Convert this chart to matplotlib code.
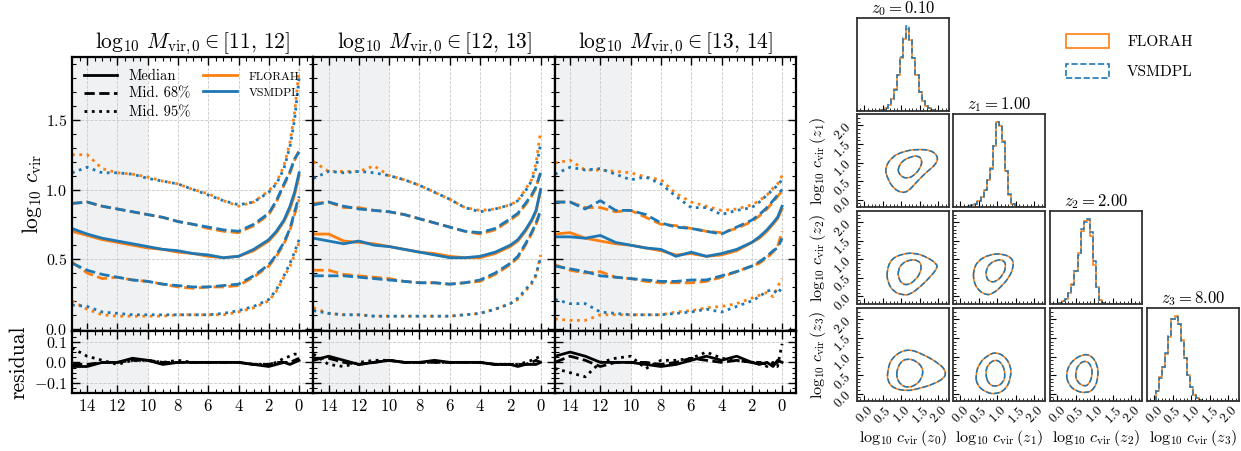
import matplotlib
matplotlib.use("Agg")
import matplotlib.pyplot as plt
import numpy as np
from matplotlib.lines import Line2D
from matplotlib.patches import Patch, PathPatch
from matplotlib.path import Path
from matplotlib.ticker import MultipleLocator, NullFormatter

plt.rcParams.update({
    "font.family": "serif",
    "font.serif": ["cmr10"],
    "mathtext.fontset": "cm",
    "axes.formatter.use_mathtext": True,
    "xtick.direction": "in",
    "ytick.direction": "in",
    "axes.unicode_minus": True,
})

ORANGE = "#ff7f0e"
BLUE = "#1f77b4"

# lookback time grid [Gyr]
t_gyr = [15.0, 14.0, 13.0, 12.0, 11.0, 10.0, 9.0, 8.0, 7.0, 6.0, 5.0, 4.0,
         3.0, 2.0, 1.5, 1.0, 0.6, 0.3, 0.0]

# ---- panel 1 : log10 Mvir,0 in [11, 12]
p1_med_fl = [0.70, 0.67, 0.64, 0.62, 0.60, 0.58, 0.57, 0.55, 0.54, 0.52, 0.51, 0.52, 0.56, 0.63, 0.69, 0.77, 0.86, 0.96, 1.10]
p1_med_vs = [0.72, 0.68, 0.65, 0.63, 0.61, 0.59, 0.57, 0.56, 0.54, 0.53, 0.51, 0.52, 0.57, 0.64, 0.70, 0.78, 0.88, 0.98, 1.12]
p1_hi68_fl = [0.90, 0.91, 0.88, 0.86, 0.84, 0.82, 0.80, 0.77, 0.75, 0.72, 0.70, 0.69, 0.74, 0.82, 0.91, 1.03, 1.12, 1.21, 1.28]
p1_hi68_vs = [0.90, 0.91, 0.88, 0.86, 0.84, 0.82, 0.80, 0.77, 0.75, 0.73, 0.71, 0.70, 0.75, 0.83, 0.92, 1.04, 1.13, 1.22, 1.27]
p1_lo68_fl = [0.48, 0.40, 0.36, 0.37, 0.35, 0.34, 0.32, 0.30, 0.29, 0.30, 0.30, 0.31, 0.37, 0.45, 0.52, 0.61, 0.71, 0.82, 0.93]
p1_lo68_vs = [0.47, 0.42, 0.39, 0.37, 0.35, 0.34, 0.32, 0.31, 0.30, 0.30, 0.31, 0.32, 0.38, 0.46, 0.53, 0.62, 0.72, 0.84, 0.95]
p1_hi95_fl = [1.25, 1.25, 1.15, 1.12, 1.11, 1.09, 1.06, 1.04, 1.00, 0.97, 0.92, 0.88, 0.91, 0.99, 1.05, 1.17, 1.34, 1.55, 1.86]
p1_hi95_vs = [1.12, 1.16, 1.12, 1.12, 1.11, 1.08, 1.06, 1.04, 1.00, 0.96, 0.92, 0.89, 0.91, 0.98, 1.04, 1.15, 1.31, 1.50, 1.80]
p1_lo95_fl = [0.20, 0.14, 0.10, 0.09, 0.09, 0.09, 0.09, 0.10, 0.10, 0.10, 0.10, 0.12, 0.15, 0.20, 0.27, 0.37, 0.45, 0.53, 0.62]
p1_lo95_vs = [0.17, 0.16, 0.12, 0.11, 0.10, 0.10, 0.10, 0.10, 0.10, 0.10, 0.11, 0.13, 0.16, 0.21, 0.28, 0.38, 0.47, 0.55, 0.64]
p1_res_med = [-0.02, -0.02, 0.00, 0.00, 0.02, 0.01, -0.01, 0.00, 0.00, 0.00, 0.00, 0.00, -0.01, -0.02, -0.01, 0.00, -0.01, 0.00, 0.01]
p1_res_68 = [-0.01, -0.01, 0.00, 0.00, 0.01, 0.01, 0.00, 0.00, 0.00, 0.00, 0.00, 0.00, -0.01, -0.01, 0.00, 0.00, 0.00, 0.01, 0.02]
p1_res_95 = [0.07, 0.03, 0.01, -0.01, 0.01, 0.01, 0.00, 0.01, 0.00, 0.00, 0.00, 0.00, -0.01, -0.01, 0.00, 0.02, 0.03, 0.04, 0.04]

# ---- panel 2 : log10 Mvir,0 in [12, 13]
p2_med_fl = [0.68, 0.68, 0.63, 0.62, 0.61, 0.59, 0.57, 0.55, 0.54, 0.52, 0.51, 0.51, 0.54, 0.59, 0.63, 0.70, 0.77, 0.84, 0.99]
p2_med_vs = [0.65, 0.63, 0.61, 0.63, 0.60, 0.59, 0.57, 0.55, 0.53, 0.51, 0.51, 0.52, 0.55, 0.60, 0.64, 0.71, 0.78, 0.85, 1.00]
p2_hi68_fl = [0.90, 0.91, 0.87, 0.87, 0.85, 0.84, 0.82, 0.79, 0.76, 0.73, 0.70, 0.68, 0.71, 0.78, 0.82, 0.89, 0.95, 1.01, 1.13]
p2_hi68_vs = [0.89, 0.91, 0.88, 0.86, 0.85, 0.84, 0.82, 0.79, 0.76, 0.73, 0.70, 0.69, 0.72, 0.79, 0.83, 0.90, 0.96, 1.02, 1.12]
p2_lo68_fl = [0.42, 0.42, 0.39, 0.38, 0.37, 0.36, 0.34, 0.33, 0.33, 0.32, 0.33, 0.34, 0.39, 0.46, 0.51, 0.60, 0.68, 0.75, 0.84]
p2_lo68_vs = [0.38, 0.38, 0.38, 0.37, 0.36, 0.35, 0.34, 0.33, 0.33, 0.32, 0.33, 0.35, 0.40, 0.47, 0.52, 0.61, 0.69, 0.76, 0.85]
p2_hi95_fl = [1.20, 1.13, 1.13, 1.13, 1.17, 1.10, 1.07, 1.03, 0.98, 0.93, 0.87, 0.85, 0.86, 0.89, 0.92, 1.00, 1.07, 1.19, 1.42]
p2_hi95_vs = [1.08, 1.13, 1.12, 1.13, 1.12, 1.10, 1.07, 1.03, 0.98, 0.93, 0.87, 0.84, 0.86, 0.89, 0.92, 0.99, 1.06, 1.15, 1.33]
p2_lo95_fl = [0.15, 0.11, 0.10, 0.10, 0.09, 0.09, 0.09, 0.09, 0.09, 0.09, 0.10, 0.11, 0.14, 0.18, 0.21, 0.27, 0.32, 0.38, 0.53]
p2_lo95_vs = [0.13, 0.11, 0.10, 0.10, 0.09, 0.09, 0.09, 0.09, 0.09, 0.09, 0.10, 0.11, 0.14, 0.18, 0.22, 0.28, 0.33, 0.39, 0.51]
p2_res_med = [0.01, 0.03, 0.01, -0.01, 0.00, 0.01, 0.00, 0.00, 0.01, 0.00, 0.00, 0.00, -0.01, -0.01, -0.02, -0.01, -0.01, -0.01, 0.00]
p2_res_68 = [0.02, 0.02, 0.00, -0.01, 0.00, 0.01, 0.00, 0.00, 0.00, 0.00, 0.00, 0.00, -0.01, -0.01, -0.01, -0.01, 0.00, 0.01, 0.00]
p2_res_95 = [0.04, -0.01, -0.02, 0.00, 0.01, 0.01, 0.00, 0.00, 0.00, 0.00, 0.00, 0.00, -0.01, -0.01, -0.01, 0.00, 0.01, 0.02, 0.03]

# ---- panel 3 : log10 Mvir,0 in [13, 14]
p3_med_fl = [0.68, 0.69, 0.65, 0.63, 0.61, 0.60, 0.58, 0.56, 0.53, 0.54, 0.52, 0.53, 0.56, 0.62, 0.65, 0.70, 0.75, 0.79, 0.86]
p3_med_vs = [0.66, 0.66, 0.65, 0.67, 0.62, 0.60, 0.58, 0.57, 0.52, 0.55, 0.52, 0.54, 0.57, 0.62, 0.66, 0.71, 0.76, 0.80, 0.88]
p3_hi68_fl = [0.91, 0.91, 0.87, 0.87, 0.84, 0.85, 0.80, 0.75, 0.74, 0.72, 0.70, 0.69, 0.72, 0.77, 0.81, 0.86, 0.91, 0.95, 0.99]
p3_hi68_vs = [0.91, 0.91, 0.86, 0.92, 0.85, 0.85, 0.82, 0.76, 0.73, 0.72, 0.70, 0.68, 0.73, 0.78, 0.82, 0.87, 0.92, 0.96, 1.00]
p3_lo68_fl = [0.46, 0.42, 0.40, 0.41, 0.37, 0.36, 0.34, 0.33, 0.33, 0.33, 0.34, 0.37, 0.41, 0.45, 0.47, 0.51, 0.55, 0.59, 0.70]
p3_lo68_vs = [0.45, 0.43, 0.41, 0.38, 0.37, 0.36, 0.35, 0.34, 0.34, 0.35, 0.35, 0.38, 0.41, 0.45, 0.48, 0.52, 0.56, 0.58, 0.65]
p3_hi95_fl = [1.19, 1.21, 1.14, 1.14, 1.13, 1.12, 1.09, 1.07, 0.97, 0.91, 0.88, 0.85, 0.86, 0.89, 0.92, 0.96, 1.01, 1.04, 1.10]
p3_hi95_vs = [1.11, 1.16, 1.14, 1.15, 1.11, 1.07, 1.09, 1.04, 0.95, 0.87, 0.87, 0.82, 0.85, 0.87, 0.91, 0.96, 1.00, 1.03, 1.07]
p3_lo95_fl = [0.07, 0.06, 0.06, 0.10, 0.10, 0.10, 0.10, 0.10, 0.12, 0.13, 0.15, 0.16, 0.18, 0.22, 0.24, 0.26, 0.23, 0.30, 0.36]
p3_lo95_vs = [0.21, 0.18, 0.18, 0.12, 0.11, 0.10, 0.10, 0.10, 0.11, 0.12, 0.14, 0.12, 0.16, 0.20, 0.23, 0.27, 0.28, 0.25, 0.30]
p3_res_med = [0.03, 0.05, 0.03, 0.00, 0.00, 0.00, -0.01, -0.02, -0.01, 0.01, 0.03, 0.01, 0.03, 0.00, -0.01, 0.00, -0.02, 0.01, 0.00]
p3_res_68 = [0.00, 0.03, 0.01, -0.02, 0.00, 0.00, 0.00, -0.01, 0.00, 0.02, 0.01, 0.00, 0.01, 0.00, 0.00, -0.01, -0.01, 0.00, 0.02]
p3_res_95 = [-0.03, -0.05, -0.07, 0.00, 0.02, 0.03, -0.03, 0.01, 0.01, 0.02, 0.05, 0.02, 0.01, 0.00, 0.00, -0.02, 0.00, -0.02, 0.09]

mass_bins = [(11, 12), (12, 13), (13, 14)]

# ---- corner plot: histograms of log10 c_vir (30 bins from -0.2 to 2.3)
bin_edges = np.linspace(-0.2, 2.3, 31)
hist_z0_fl = [0, 0, 0, 0, 0, 0, 0, 0.005, 0.01, 0.03, 0.07, 0.14, 0.26, 0.42, 0.62, 0.85, 0.97, 0.84, 0.62, 0.42, 0.22, 0.12, 0.06, 0.03, 0.015, 0.005, 0, 0, 0, 0]
hist_z0_vs = [0, 0, 0, 0, 0, 0, 0, 0.005, 0.01, 0.03, 0.07, 0.14, 0.25, 0.42, 0.63, 0.86, 1.00, 0.83, 0.62, 0.42, 0.22, 0.12, 0.06, 0.03, 0.015, 0.005, 0, 0, 0, 0]
hist_z1_fl = [0, 0, 0, 0, 0.005, 0.01, 0.02, 0.04, 0.07, 0.12, 0.20, 0.32, 0.46, 0.72, 1.00, 0.95, 0.78, 0.42, 0.14, 0.03, 0.005, 0, 0, 0, 0, 0, 0, 0, 0, 0]
hist_z1_vs = [0, 0, 0, 0, 0.005, 0.01, 0.02, 0.04, 0.07, 0.12, 0.20, 0.32, 0.45, 0.72, 1.00, 0.97, 0.77, 0.42, 0.15, 0.03, 0.005, 0, 0, 0, 0, 0, 0, 0, 0, 0]
hist_z2_fl = [0, 0, 0, 0.01, 0.03, 0.06, 0.12, 0.23, 0.38, 0.60, 0.86, 0.97, 0.98, 0.80, 0.46, 0.20, 0.04, 0.005, 0, 0, 0, 0, 0, 0, 0, 0, 0, 0, 0, 0]
hist_z2_vs = [0, 0, 0, 0.01, 0.03, 0.06, 0.12, 0.22, 0.38, 0.57, 0.88, 0.96, 1.00, 0.84, 0.50, 0.20, 0.04, 0.005, 0, 0, 0, 0, 0, 0, 0, 0, 0, 0, 0, 0]
hist_z3_fl = [0, 0, 0, 0.12, 0.28, 0.40, 0.55, 0.75, 0.96, 1.00, 0.90, 0.72, 0.50, 0.30, 0.17, 0.07, 0.03, 0.01, 0.005, 0, 0, 0, 0, 0, 0, 0, 0, 0, 0, 0]
hist_z3_vs = [0, 0, 0, 0.12, 0.27, 0.40, 0.56, 0.76, 0.97, 0.99, 0.90, 0.71, 0.51, 0.30, 0.17, 0.07, 0.03, 0.01, 0.005, 0, 0, 0, 0, 0, 0, 0, 0, 0, 0, 0]
hists = [(hist_z0_fl, hist_z0_vs), (hist_z1_fl, hist_z1_vs),
         (hist_z2_fl, hist_z2_vs), (hist_z3_fl, hist_z3_vs)]
z_values = [0.10, 1.00, 2.00, 8.00]

# ---- corner plot: density contours (x = c(z_col), y = c(z_row))
ctr_10_outer = ([0.56, 0.74, 1.06, 1.42, 1.82, 2.00, 1.94, 1.69, 1.42, 1.19, 1.01, 0.79, 0.63],
                [0.84, 1.15, 1.30, 1.36, 1.33, 1.15, 0.95, 0.75, 0.48, 0.22, 0.18, 0.30, 0.57])
ctr_10_inner = ([0.92, 1.01, 1.24, 1.46, 1.57, 1.52, 1.37, 1.19, 1.01, 0.92],
                [0.84, 1.03, 1.15, 1.19, 1.06, 0.86, 0.67, 0.57, 0.61, 0.75])
ctr_20_outer = ([0.61, 0.74, 1.06, 1.37, 1.69, 1.96, 1.97, 1.78, 1.51, 1.24, 1.06, 0.79, 0.63],
                [0.70, 1.02, 1.15, 1.17, 1.06, 0.88, 0.75, 0.52, 0.25, 0.05, 0.03, 0.12, 0.39])
ctr_20_inner = ([0.92, 1.01, 1.24, 1.46, 1.55, 1.51, 1.37, 1.19, 1.01, 0.92],
                [0.70, 0.88, 0.99, 0.97, 0.84, 0.61, 0.43, 0.30, 0.34, 0.52])
ctr_21_outer = ([0.36, 0.47, 0.79, 1.15, 1.42, 1.44, 1.33, 1.10, 0.88, 0.70, 0.47, 0.36],
                [0.70, 0.95, 1.13, 1.15, 1.02, 0.79, 0.52, 0.25, 0.07, 0.03, 0.18, 0.43])
ctr_21_inner = ([0.70, 0.79, 1.01, 1.19, 1.24, 1.15, 0.97, 0.79, 0.70],
                [0.70, 0.88, 0.99, 0.97, 0.79, 0.57, 0.39, 0.39, 0.52])
ctr_30_outer = ([0.63, 0.74, 1.15, 1.60, 2.05, 2.20, 2.18, 1.87, 1.42, 1.15, 0.79, 0.63],
                [0.61, 0.97, 1.22, 1.06, 0.79, 0.61, 0.43, 0.25, 0.12, 0.07, 0.14, 0.34])
ctr_30_inner = ([0.88, 0.97, 1.15, 1.42, 1.60, 1.55, 1.37, 1.15, 0.97, 0.88],
                [0.61, 0.84, 0.95, 0.88, 0.66, 0.39, 0.21, 0.16, 0.25, 0.43])
ctr_31_outer = ([0.41, 0.52, 0.79, 0.97, 1.19, 1.37, 1.37, 1.24, 0.97, 0.70, 0.47],
                [0.48, 0.84, 1.06, 1.11, 1.02, 0.75, 0.43, 0.12, -0.02, 0.03, 0.21])
ctr_31_inner = ([0.68, 0.74, 0.97, 1.15, 1.22, 1.17, 0.97, 0.77],
                [0.52, 0.79, 0.93, 0.79, 0.52, 0.30, 0.18, 0.25])
ctr_32_outer = ([0.23, 0.37, 0.68, 0.91, 1.09, 1.11, 1.00, 0.79, 0.50, 0.32],
                [0.52, 0.86, 1.06, 1.04, 0.79, 0.43, 0.12, 0.01, 0.07, 0.23])
ctr_32_inner = ([0.48, 0.57, 0.77, 0.93, 0.95, 0.86, 0.73, 0.55],
                [0.52, 0.79, 0.90, 0.75, 0.48, 0.25, 0.19, 0.30])
contours = {
    (1, 0): (ctr_10_outer, ctr_10_inner),
    (2, 0): (ctr_20_outer, ctr_20_inner),
    (2, 1): (ctr_21_outer, ctr_21_inner),
    (3, 0): (ctr_30_outer, ctr_30_inner),
    (3, 1): (ctr_31_outer, ctr_31_inner),
    (3, 2): (ctr_32_outer, ctr_32_inner),
}


def smooth_path(xs, ys):
    """Closed quadratic B-spline path through the read contour points."""
    pts = np.column_stack([xs, ys])
    mids = (pts + np.roll(pts, -1, axis=0)) / 2
    verts = [mids[-1]]
    codes = [Path.MOVETO]
    for i in range(len(pts)):
        verts += [pts[i], mids[i]]
        codes += [Path.CURVE3, Path.CURVE3]
    return Path(verts, codes)


def style_left(ax, resid=False):
    ax.set_xlim(15.0, -0.95)
    ax.axvspan(10, 16, color="#f0f1f3", zorder=0, lw=0)
    ax.xaxis.set_major_locator(MultipleLocator(2))
    ax.xaxis.set_minor_locator(MultipleLocator(0.5))
    if resid:
        ax.set_ylim(-0.15, 0.15)
        ax.yaxis.set_major_locator(MultipleLocator(0.1))
        ax.yaxis.set_minor_locator(MultipleLocator(0.025))
    else:
        ax.set_ylim(-0.02, 1.95)
        ax.yaxis.set_major_locator(MultipleLocator(0.5))
        ax.yaxis.set_minor_locator(MultipleLocator(0.1))
    ax.grid(True, which="major", ls="--", lw=0.6, color="#c8c8c8")
    ax.set_axisbelow(True)
    ax.tick_params(which="both", top=True, right=True)
    ax.tick_params(axis="x", labelsize=12)
    ax.tick_params(axis="y", labelsize=11.5)
    ax.tick_params(which="major", length=6, width=1.0)
    ax.tick_params(which="minor", length=3, width=0.8)
    for sp in ax.spines.values():
        sp.set_linewidth(1.6)


fig = plt.figure(figsize=(12.41, 4.51), dpi=100)

panels = [
    (p1_med_fl, p1_med_vs, p1_hi68_fl, p1_hi68_vs, p1_lo68_fl, p1_lo68_vs,
     p1_hi95_fl, p1_hi95_vs, p1_lo95_fl, p1_lo95_vs, p1_res_med, p1_res_68, p1_res_95),
    (p2_med_fl, p2_med_vs, p2_hi68_fl, p2_hi68_vs, p2_lo68_fl, p2_lo68_vs,
     p2_hi95_fl, p2_hi95_vs, p2_lo95_fl, p2_lo95_vs, p2_res_med, p2_res_68, p2_res_95),
    (p3_med_fl, p3_med_vs, p3_hi68_fl, p3_hi68_vs, p3_lo68_fl, p3_lo68_vs,
     p3_hi95_fl, p3_hi95_vs, p3_lo95_fl, p3_lo95_vs, p3_res_med, p3_res_68, p3_res_95),
]
lefts = [0.0580, 0.2526, 0.4472]
width = 0.1946
LW = 2.0

for i, data in enumerate(panels):
    (med_fl, med_vs, hi68_fl, hi68_vs, lo68_fl, lo68_vs,
     hi95_fl, hi95_vs, lo95_fl, lo95_vs, r_med, r_68, r_95) = data
    ax = fig.add_axes([lefts[i], 0.2650, width, 0.6080])
    rax = fig.add_axes([lefts[i], 0.1280, width, 0.1370])
    style_left(ax)
    style_left(rax, resid=True)

    for fl, vs, ls in [(med_fl, med_vs, "-"), (hi68_fl, hi68_vs, "--"),
                       (lo68_fl, lo68_vs, "--"), (hi95_fl, hi95_vs, ":"),
                       (lo95_fl, lo95_vs, ":")]:
        ax.plot(t_gyr, fl, color=ORANGE, ls=ls, lw=LW)
        ax.plot(t_gyr, vs, color=BLUE, ls=ls, lw=LW)

    rax.plot(t_gyr, r_med, color="black", ls="-", lw=LW)
    rax.plot(t_gyr, r_68, color="black", ls="--", lw=LW)
    rax.plot(t_gyr, r_95, color="black", ls=":", lw=LW)

    lo, hi = mass_bins[i]
    ax.set_title(r"$\log_{10}\,M_{\rm vir,0} \in [%d,\, %d]$" % (lo, hi), fontsize=15.5, pad=6)
    ax.xaxis.set_major_formatter(NullFormatter())
    if i == 0:
        ax.set_ylabel(r"$\log_{10}\,c_{\rm vir}$", fontsize=15.5, labelpad=1)
        rax.set_ylabel("residual", fontsize=15.5)
        handles = [
            Line2D([], [], color="black", ls="-", lw=LW, label="Median"),
            Line2D([], [], color="black", ls="--", lw=LW, label="Mid. 68%"),
            Line2D([], [], color="black", ls=":", lw=LW, label="Mid. 95%"),
            Line2D([], [], color=ORANGE, ls="-", lw=LW, label="FLORAH"),
            Line2D([], [], color=BLUE, ls="-", lw=LW, label="VSMDPL"),
            Line2D([], [], color="none", label=" "),
        ]
        leg = ax.legend(handles=handles, ncol=2, loc="upper left", frameon=False,
                        fontsize=10.5, handlelength=2.3, labelspacing=0.3,
                        columnspacing=0.9, borderaxespad=0.4)
        for txt in leg.get_texts()[3:5]:
            txt.set_fontsize(8.5)
    else:
        ax.yaxis.set_major_formatter(NullFormatter())
        rax.yaxis.set_major_formatter(NullFormatter())

# ---- corner plot
col_left = [856.7, 952.7, 1049.7, 1146.7]
row_top = [18.3, 114.3, 211.0, 308.3]
W_PX, H_PX = 1241.0, 451.0
size = 92.7
lims = (-0.2, 2.3)

for r in range(4):
    for c in range(r + 1):
        cax = fig.add_axes([col_left[c] / W_PX, 1 - (row_top[r] + size) / H_PX,
                            size / W_PX, size / H_PX])
        cax.set_xlim(*lims)
        cax.xaxis.set_major_locator(MultipleLocator(0.5))
        cax.xaxis.set_minor_locator(MultipleLocator(0.1))
        cax.tick_params(which="major", length=4, width=0.8, labelsize=9.5, pad=2)
        cax.tick_params(which="minor", length=2, width=0.6)
        for sp in cax.spines.values():
            sp.set_linewidth(1.3)
            sp.set_color("#333333")
        if r == c:
            h_fl, h_vs = hists[r]
            cax.stairs(h_fl, bin_edges, color=ORANGE, lw=1.1)
            cax.stairs(h_vs, bin_edges, color=BLUE, lw=1.1, ls="--")
            cax.set_ylim(0, 1.09)
            cax.set_yticks([])
            cax.set_title(r"$z_%d = %.2f$" % (r, z_values[r]), fontsize=12, pad=3)
        else:
            outer, inner = contours[(r, c)]
            for xs, ys in (outer, inner):
                cax.add_patch(PathPatch(smooth_path(xs, ys), fill=False,
                                        edgecolor=ORANGE, lw=1.1))
                cax.add_patch(PathPatch(smooth_path(xs, ys), fill=False,
                                        edgecolor=BLUE, lw=1.1, ls="--"))
            cax.set_ylim(*lims)
            cax.yaxis.set_major_locator(MultipleLocator(0.5))
            cax.yaxis.set_minor_locator(MultipleLocator(0.1))
            if c == 0:
                for lab in cax.get_yticklabels():
                    lab.set_rotation(45)
                cax.set_ylabel(r"$\log_{10}\,c_{\rm vir}\,(z_%d)$" % r, fontsize=11.5, labelpad=2)
            else:
                cax.yaxis.set_major_formatter(NullFormatter())
        if r == 3:
            for lab in cax.get_xticklabels():
                lab.set_rotation(45)
            cax.set_xlabel(r"$\log_{10}\,c_{\rm vir}\,(z_%d)$" % c, fontsize=11.5, labelpad=1)
        else:
            cax.xaxis.set_major_formatter(NullFormatter())

corner_handles = [
    Patch(facecolor="none", edgecolor=ORANGE, lw=1.2, label="FLORAH"),
    Patch(facecolor="none", edgecolor=BLUE, lw=1.2, ls="--", label="VSMDPL"),
]
fig.legend(handles=corner_handles, loc="upper left",
           bbox_to_anchor=(1066 / W_PX, 1 - 34 / H_PX), frameon=False,
           fontsize=11, handlelength=2.8, handleheight=1.0, labelspacing=1.0,
           borderpad=0, borderaxespad=0, handletextpad=1.2)

fig.savefig("out.png", dpi=100)
